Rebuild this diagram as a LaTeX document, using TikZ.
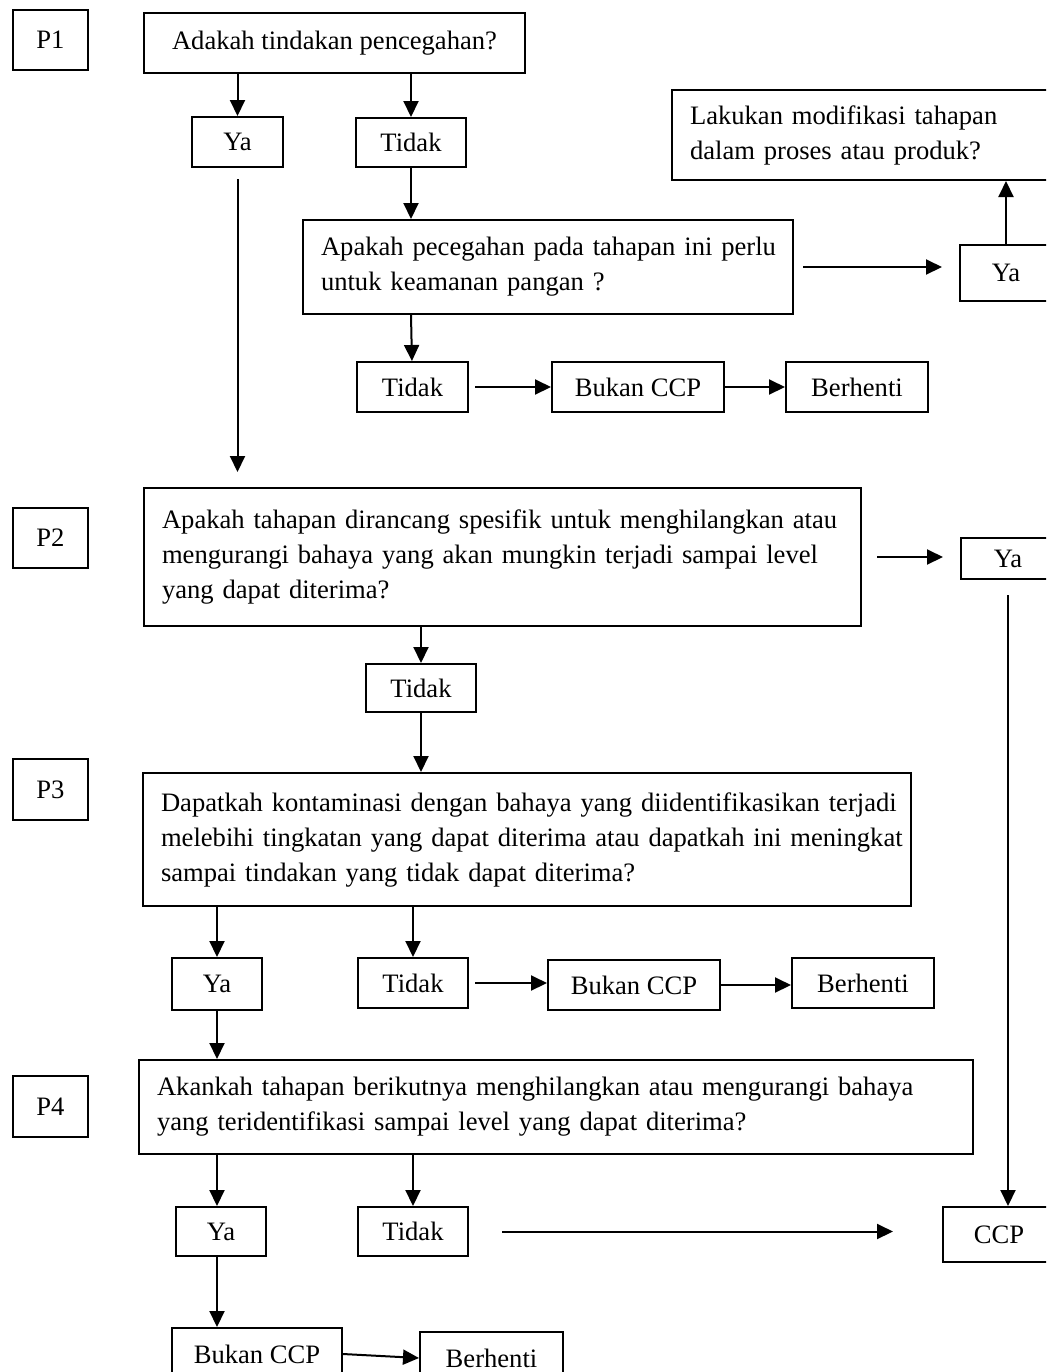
\documentclass[tikz,border=0pt]{standalone}
\usepackage{fontspec}
\setmainfont{Liberation Serif}
\usetikzlibrary{arrows.meta, calc, positioning}
\tikzset{box/.style={draw,line width=1pt,rectangle,anchor=north west,inner sep=0pt,
        font=\fontsize{13.3}{17.5}\selectfont},
    qbox/.style={box,align=left,inner xsep=9pt},
    arr/.style={draw,line width=1pt,-{Triangle[length=8pt,width=7.5pt]}}}

\begin{document}
\begin{tikzpicture}[x=0.5pt,y=-0.5pt]
    \clip (0,0) rectangle (1046,1372);

    % Step labels
    \node[box,minimum width=37.5pt,minimum height=30pt]   (p1) at (12,9)    {P1};
    \node[box,minimum width=37.5pt,minimum height=30pt]   (p2) at (12,507)  {P2};
    \node[box,minimum width=37.5pt,minimum height=30.5pt] (p3) at (12,758)  {P3};
    \node[box,minimum width=37.5pt,minimum height=30.5pt] (p4) at (12,1075) {P4};

    % P1
    \node[box,minimum width=190.5pt,minimum height=30pt] (q1) at (143,12) {Adakah tindakan pencegahan?};
    \node[box,minimum width=45.5pt,minimum height=25pt] (ya1) at (191,116) {Ya};
    \node[box,minimum width=55pt,minimum height=24.5pt] (td1) at (355,117) {Tidak};
    \node[qbox,text width=227pt,minimum height=47pt] (q1b) at (302,219)
        {\mbox{Apakah pecegahan pada tahapan ini perlu}\\\mbox{untuk keamanan pangan ?}};
    \node[box,minimum width=46pt,minimum height=28pt] (ya1b) at (959,244) {Ya};
    \node[qbox,text width=182pt,minimum height=45pt] (mod) at (671,89)
        {\mbox{Lakukan modifikasi tahapan}\\\mbox{dalam proses atau produk?}};
    \node[box,minimum width=55.5pt,minimum height=25pt] (td1b) at (356,361) {Tidak};
    \node[box,minimum width=86pt,minimum height=25pt] (bk1) at (551,361) {Bukan CCP};
    \node[box,minimum width=71pt,minimum height=25pt] (bh1) at (785,361) {Berhenti};

    \draw[arr] (q1.south -| ya1) -- (ya1);
    \draw[arr] (td1 |- q1.south) -- (td1);
    \draw[arr] (td1) -- (td1 |- q1b.north);
    \draw[arr] (td1 |- q1b.south) -- (td1b);
    \draw[arr,shorten <=3pt] (td1b) -- (bk1);
    \draw[arr] (bk1) -- (bh1);
    \draw[arr,shorten <=4.5pt,shorten >=8.5pt] (q1b.east) -- (q1b.east -| ya1b.west);
    \draw[arr] (ya1b) -- (ya1b |- mod.south);

    % P2
    \node[qbox,text width=340.5pt,minimum height=69pt] (q2) at (143,487)
        {\mbox{Apakah tahapan dirancang spesifik untuk menghilangkan atau}\\
         \mbox{mengurangi bahaya yang akan mungkin terjadi sampai level}\\
         \mbox{yang dapat diterima?}};
    \node[box,minimum width=47pt,minimum height=20.5pt] (ya2) at (960,537) {Ya};
    \node[box,minimum width=55pt,minimum height=24pt] (td2) at (365,663) {Tidak};

    \draw[arr,shorten <=5.5pt,shorten >=7.5pt] (ya1) -- (ya1 |- q2.north);
    \draw[arr,shorten <=7.5pt,shorten >=8.5pt] (q2.east) -- (q2.east -| ya2.west);
    \draw[arr] (td2 |- q2.south) -- (td2);

    % P3
    \node[qbox,text width=366pt,minimum height=66.5pt] (q3) at (142,772)
        {\mbox{Dapatkah kontaminasi dengan bahaya yang diidentifikasikan terjadi}\\
         \mbox{melebihi tingkatan yang dapat diterima atau dapatkah ini meningkat}\\
         \mbox{sampai tindakan yang tidak dapat diterima?}};
    \node[box,minimum width=45pt,minimum height=26pt] (ya3) at (171,957) {Ya};
    \node[box,minimum width=55pt,minimum height=25pt] (td3) at (357,957) {Tidak};
    \node[box,minimum width=86pt,minimum height=25pt] (bk3) at (547,959) {Bukan CCP};
    \node[box,minimum width=71pt,minimum height=25pt] (bh3) at (791,957) {Berhenti};

    \draw[arr] (td2) -- (td2 |- q3.north);
    \draw[arr] (ya3 |- q3.south) -- (ya3);
    \draw[arr] (td3 |- q3.south) -- (td3);
    \draw[arr,shorten <=3pt] (td3.east) -- (td3.east -| bk3.west);
    \draw[arr] (bk3.east) -- (bk3.east -| bh3.west);

    % P4
    \node[qbox,text width=399pt,minimum height=47pt] (q4) at (138,1059)
        {\mbox{Akankah tahapan berikutnya menghilangkan atau mengurangi bahaya}\\
         \mbox{yang teridentifikasi sampai level yang dapat diterima?}};
    \node[box,minimum width=45pt,minimum height=24.5pt] (ya4) at (175,1206) {Ya};
    \node[box,minimum width=55pt,minimum height=24.5pt] (td4) at (357,1206) {Tidak};
    \node[box,minimum width=56pt,minimum height=27.5pt] (ccp) at (942,1206) {CCP};
    \node[box,minimum width=85pt,minimum height=26pt] (bk4) at (171,1327) {Bukan CCP};
    \node[box,minimum width=71.5pt,minimum height=26pt] (bh4) at (419,1331) {Berhenti};

    \draw[arr] (ya3) -- (ya3 |- q4.north);
    \draw[arr] (ya3 |- q4.south) -- (ya3 |- ya4.north);
    \draw[arr] (td4 |- q4.south) -- (td4);
    \draw[arr,shorten <=16.5pt,shorten >=24.5pt] (td4.east) -- (td4.east -| ccp.west);
    \draw[arr,shorten <=7.5pt] (ya2) -- (ya2 |- ccp.north);
    \draw[arr] (ya3 |- ya4.south) -- (ya3 |- bk4.north);
    \draw[arr] (bk4.east) -- (bh4.west);
\end{tikzpicture}
\end{document}
